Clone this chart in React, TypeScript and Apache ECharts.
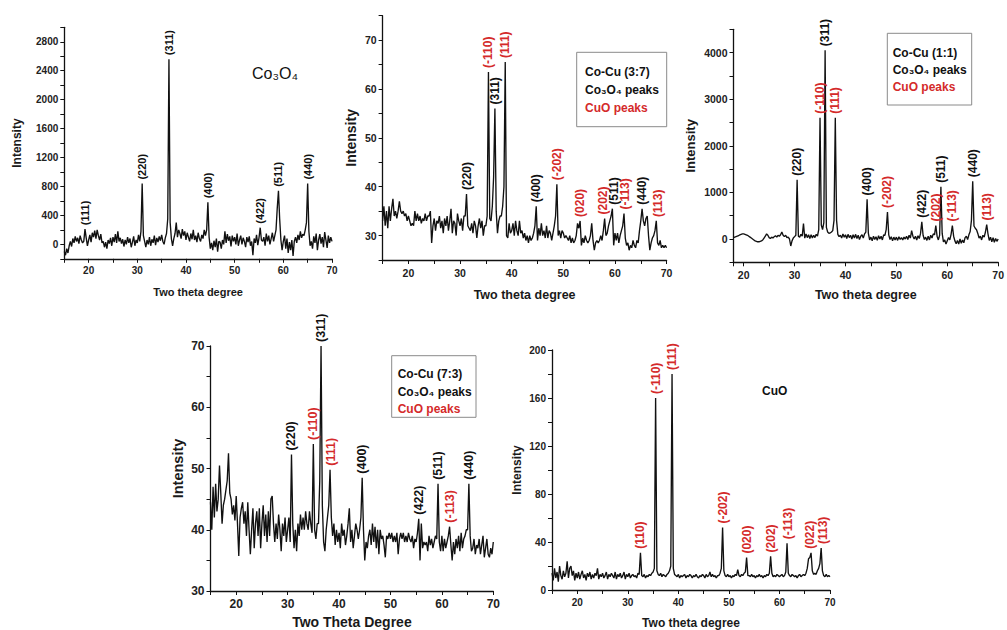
import React, { useEffect, useRef } from 'react';
import * as echarts from 'echarts';

// ---------------- data (x starts at given degree, step 0.25 deg) ----------------
const STEP = 0.25;

// Co3O4 (start 15)
const co3o4Y = [
  -100, -150, -60, -120, -20, 40, -30, 80, 20, 110, 40, 90, 10, 120, 60, 20,
  40, 210, 90, -20, 60, 130, 30, 160, 100, 190, 80, 200, 120, 60, 140, 20,
  40, -40, 30, -60, 60, 10, 90, -20, 100, 30, 140, 20, 180, 40, 90, 10,
  70, -30, 60, 0, 100, 20, 80, -40, 30, 110, -20, 60, 20, 130, 40, 180,
  840, 120, 40, -40, 60, 0, 100, -20, 70, 20, 120, -10, 90, 30, 110, 50,
  130, 40, 0, 90, 150, 350, 2560, 300, 80, -20, 80, 150, 300, 100, 200, 150,
  80, 210, 120, 180, 60, 160, 100, 40, 150, 70, 200, 60, 120, 30, 160, 80,
  40, 130, 80, 200, 120, 200, 580, 100, -60, 20, -80, 50, -40, 80, -100, 40,
  30, -60, 60, 0, 180, 20, 140, 50, 110, -30, 120, 40, 100, 0, 150, -20,
  60, 120, 0, 90, 40, -40, 100, 30, 110, -20, 40, -150, 80, 20, 130, -10,
  90, 230, 60, 40, 100, -20, 150, 40, 120, 0, 80, 160, 40, 120, 200, 500,
  740, 350, 60, -80, 40, 120, -60, 80, -120, 30, -80, 60, -160, 40, 100, 20,
  130, 60, 180, 90, 140, 120, 200, 300, 840, 180, -20, 40, -60, 110, 20, 150,
  -80, 60, 140, 10, 100, -40, 170, 60, -50, 120, 20, 100, 40,
];
const co3o4Labels: [number, number, string, string][] = [
  [19.25, 210, '(111)', 'k'], [31, 840, '(220)', 'k'], [36.5, 2560, '(311)', 'k'],
  [44.5, 580, '(400)', 'k'], [55.25, 230, '(422)', 'k'], [59, 740, '(511)', 'k'],
  [65, 840, '(440)', 'k'],
];

// Co-Cu (3:7) (start 15)
const cu37Y = [
  33, 36, 32, 35, 31.5, 36, 33, 35.5, 37.5, 34, 35, 33.5, 35, 37, 35, 34.5,
  35, 34, 34.5, 33, 34, 33, 32, 32.5, 32, 35, 33, 34.5, 33, 34, 32.5, 33.5,
  33, 34.5, 33, 34, 34, 35, 28.5, 32, 33.5, 31, 33, 32.5, 34, 31.5, 33, 30.5,
  33.5, 32, 34, 31, 33, 35.5, 30.5, 33, 32.5, 30, 34.5, 33, 32, 33.5, 31, 34,
  34, 38.5, 32, 31.5, 31, 32.5, 30.5, 33, 32, 29.5, 32, 33.5, 31.5, 33, 30, 32,
  32, 34, 63.5, 33.5, 33, 36, 42, 56, 35, 30.5, 33, 34, 34, 36, 40, 65.5,
  30, 29.5, 32.5, 30.5, 31, 32.5, 30, 33, 31, 30, 33, 30.5, 31, 29.5, 30.5, 29,
  30, 28.5, 30, 29, 29.5, 30.5, 32, 36, 29, 31.5, 30, 32.5, 30, 31, 29.5, 32,
  29.5, 31, 30.5, 29, 30.5, 32, 34, 40.5, 30, 31, 29.5, 31, 30.5, 29.5, 30, 29.5,
  29, 30, 28.5, 29.5, 28.5, 29, 30, 32.5, 31.5, 33, 28, 29.5, 28.5, 30, 29, 28.5,
  29, 30, 32.5, 29, 27, 28.5, 29, 28.5, 29, 30, 29, 31, 33.5, 30, 30.5, 32,
  33, 34, 35.5, 28, 30.5, 29, 30.5, 28.5, 30, 31, 32, 34.5, 29.5, 28, 28.5, 27,
  28, 27.5, 29, 28, 27.5, 29, 28.5, 31, 33, 35.5, 33, 32, 33.5, 34, 30, 27,
  28.5, 29.5, 30, 31, 33, 28.5, 28, 29, 27.5, 28, 27.5, 28, 27.5,
];
const cu37Labels: [number, number, string, string][] = [
  [31.25, 38.5, '(220)', 'k'], [35.5, 63.5, '(-110)', 'r'], [36.75, 56, '(311)', 'k'],
  [38.75, 65.5, '(111)', 'r'], [44.75, 36, '(400)', 'k'], [48.75, 40.5, '(-202)', 'r'],
  [53.25, 33, '(020)', 'r'], [57.75, 33.5, '(202)', 'r'], [59.75, 35.5, '(511)', 'k'],
  [61.9, 34.5, '(-113)', 'r'], [65.25, 35.5, '(440)', 'k'], [68.25, 33, '(113)', 'r'],
];

// Co-Cu (1:1) (start 18)
const cu11Y = [
  30, 40, 50, 60, 70, 90, 100, 110, 110, 100, 90, 80, 60, 40, 20, 0,
  -20, -40, -50, -60, -60, -50, -40, -20, 20, 60, 110, 80, 30, 10, 40, 20,
  50, 70, 40, 80, 60, 90, 150, 80, 50, 80, 30, 40, 0, -150, -40, 20,
  50, 80, 1270, 60, 40, 100, 60, 330, 20, 110, 30, 90, 10, 90, 20, 80,
  30, 100, 60, 200, 2600, 300, 200, 350, 4050, 250, 150, 120, 130, 150, 180, 400,
  2600, 400, 100, 50, 80, 20, 110, 40, 90, 10, 100, 30, 80, 0, 90, 20,
  100, 10, 80, -10, 60, 90, 20, 110, 150, 850, 120, -20, 40, -40, 60, -10,
  50, -30, 70, 0, 60, -20, 90, 80, 200, 580, 90, -10, 50, -40, 40, -20,
  40, -30, 50, -10, 30, -20, 40, 0, 60, -10, 80, 20, 180, 60, 0, 60,
  -20, 70, 10, 120, 370, 80, -10, 40, -30, 60, -20, 80, 20, 110, 90, 290,
  60, -20, 80, 1120, 120, -60, -20, -110, -40, 30, -20, 100, 290, 60, -40, -100,
  -30, -110, 0, -90, -20, -80, 30, 60, -10, 90, 160, 400, 1240, 280, 230, 200,
  120, 20, 60, -20, 80, 40, 150, 310, 110, -30, 40, -60, 30, -70, 10, -50, 0,
];
const cu11Labels: [number, number, string, string][] = [
  [30.5, 1270, '(220)', 'k'], [35, 2600, '(-110)', 'r'], [36, 4050, '(311)', 'k'],
  [38, 2600, '(111)', 'r'], [44.25, 850, '(400)', 'k'], [48.25, 580, '(-202)', 'r'],
  [55, 370, '(422)', 'k'], [57.75, 290, '(202)', 'r'], [58.75, 1120, '(511)', 'k'],
  [61, 290, '(-113)', 'r'], [65, 1240, '(440)', 'k'], [67.75, 310, '(113)', 'r'],
];

// Co-Cu (7:3) (start 15)
const cu73Y = [
  44.5, 40, 47, 42, 47.5, 43, 45, 50.5, 46, 41, 44, 45, 46.5, 48, 52.5, 46,
  45, 42.5, 44, 41.5, 45.5, 41, 35.7, 42, 43.5, 44.5, 41, 43, 39, 44.5, 40, 36,
  40, 43.5, 37, 41, 43, 39, 43.5, 37, 41, 44, 39, 42.5, 38, 43, 39, 45,
  45.5, 41, 38, 41, 38.5, 42.5, 40, 36.5, 41, 39, 42, 38, 40, 42, 38, 52.3,
  41, 37, 40, 36.5, 41, 39, 42.5, 40, 42, 40, 43, 41, 40, 43, 41, 39.5,
  54, 40, 38.5, 41, 41, 48, 70, 44, 38, 36.5, 40, 42, 44, 49.8, 42, 39,
  41, 37.5, 40, 38, 39.5, 37, 41, 39, 40, 37.5, 39, 41, 43.5, 38, 40, 37,
  39, 41, 40, 38.5, 40, 42, 48.5, 40, 35, 38, 37, 39, 40, 37.5, 41, 38,
  40.5, 37, 40, 36, 40, 38.5, 39, 37.5, 35.5, 39, 38.5, 39.5, 38.5, 39.5, 38, 39,
  38, 39.5, 36, 38.5, 39.5, 38.5, 39.5, 38, 39, 38, 39.5, 38.5, 38, 39, 37, 38.5,
  38, 39.5, 41.8, 35, 41, 37, 38, 37.5, 38, 36.5, 39, 37.5, 38.5, 37, 38, 39,
  38.5, 47.5, 38, 36.5, 39, 36.5, 38.5, 37, 38, 39, 40.5, 37.5, 35, 38, 36, 38.5,
  37, 39, 36.5, 39.5, 37, 38.5, 39, 40, 40, 47.5, 39, 36.5, 37, 38.5, 36, 37.5,
  37, 38.5, 36, 37.5, 39, 35.5, 37, 38.5, 36, 35.5, 37, 36, 38,
];
const cu73Labels: [number, number, string, string][] = [
  [30.75, 52.3, '(220)', 'k'], [35, 54, '(-110)', 'r'], [36.5, 70, '(311)', 'k'],
  [38.5, 49.8, '(111)', 'r'], [44.5, 48.5, '(400)', 'k'], [55.5, 41.8, '(422)', 'k'],
  [59.25, 47.5, '(511)', 'k'], [61.6, 40.5, '(-113)', 'r'], [65.25, 47.5, '(440)', 'k'],
];

// CuO (start 15)
const cuoY = [
  14, 8, 18, 10, 15, 7, 20, 12, 9, 16, 11, 14, 24, 10, 18, 20,
  12, 16, 8, 14, 10, 15, 9, 13, 16, 10, 13, 8, 14, 11, 15, 9,
  13, 10, 14, 12, 18, 9, 13, 11, 14, 10, 12, 15, 9, 13, 11, 14,
  12, 10, 15, 9, 13, 11, 14, 10, 12, 15, 9, 13, 11, 14, 10, 12,
  13, 11, 12, 10, 14, 13, 31, 12, 11, 13, 10, 12, 11, 13, 12, 14,
  15, 18, 160, 16, 13, 12, 14, 11, 13, 12, 11, 13, 14, 16, 20, 180,
  18, 13, 12, 11, 13, 10, 12, 11, 12, 13, 10, 12, 11, 13, 12, 10,
  12, 11, 13, 11, 10, 12, 11, 13, 12, 10, 13, 11, 12, 15, 11, 13,
  11, 12, 10, 12, 12, 14, 18, 52, 16, 12, 11, 13, 11, 12, 10, 12,
  11, 13, 12, 17, 12, 11, 13, 12, 14, 15, 27, 12, 12, 11, 13, 11,
  12, 10, 12, 11, 13, 11, 12, 10, 12, 11, 13, 12, 14, 28, 14, 11,
  12, 11, 13, 12, 11, 12, 13, 11, 12, 15, 39, 14, 12, 11, 13, 12,
  11, 12, 10, 12, 13, 11, 12, 13, 12, 14, 18, 26, 27, 31, 16, 13,
  14, 13, 16, 18, 22, 35, 16, 12, 11, 13, 11, 12, 11,
];
const cuoLabels: [number, number, string, string][] = [
  [32.4, 31, '(110)', 'r'], [35.5, 160, '(-110)', 'r'], [38.75, 180, '(111)', 'r'],
  [48.75, 52, '(-202)', 'r'], [53.5, 27, '(020)', 'r'], [58.25, 28, '(202)', 'r'],
  [61.6, 39, '(-113)', 'r'], [66.1, 31, '(022)', 'r'], [68.6, 35, '(113)', 'r'],
];

// ---------------- styling ----------------
const BLACK = '#111111';
const RED = '#d42a2a';
const FONT = '"Liberation Sans", Arial, Helvetica, sans-serif';

const toPairs = (start: number, ys: number[]) =>
  ys.map((y, i) => [Math.round((start + i * STEP) * 100) / 100, y]);

type Panel = {
  grid: { left: number; top: number; width: number; height: number };
  xMin: number; xMax: number; xInterval?: number; xSplit?: number;
  yMin: number; yMax: number; yInterval: number; yLabelStep: number; yLabelMin: number; yLabelMax: number;
  tick: number; xName: string; xNameSize: number; xNameGap: number; yNameSize: number; yNameGap: number;
  lblSize: number; start: number; ys: number[]; labels: [number, number, string, string][];
};

const panels: Panel[] = [
  {
    grid: { left: 64.3, top: 27.3, width: 267.7, height: 231.5 },
    xMin: 15, xMax: 70, xInterval: 5, yMin: -200, yMax: 3000, yInterval: 200, yLabelStep: 400, yLabelMin: 0, yLabelMax: 2800,
    tick: 10, xName: 'Two theta degree', xNameSize: 11, xNameGap: 28, yNameSize: 12, yNameGap: 41,
    lblSize: 11, start: 15, ys: co3o4Y, labels: co3o4Labels,
  },
  {
    grid: { left: 382.6, top: 15.7, width: 284, height: 244.3 },
    xMin: 15, xMax: 70, xInterval: 5, yMin: 25, yMax: 75, yInterval: 5, yLabelStep: 10, yLabelMin: 30, yLabelMax: 70,
    tick: 10.5, xName: 'Two theta degree', xNameSize: 12.5, xNameGap: 28, yNameSize: 14, yNameGap: 25,
    lblSize: 12, start: 15, ys: cu37Y, labels: cu37Labels,
  },
  {
    grid: { left: 733.5, top: 29.3, width: 269.8, height: 233 },
    xMin: 18, xMax: 70, xSplit: 11, yMin: -500, yMax: 4500, yInterval: 500, yLabelStep: 1000, yLabelMin: 0, yLabelMax: 4000,
    tick: 10.5, xName: 'Two theta degree', xNameSize: 12.5, xNameGap: 26, yNameSize: 13, yNameGap: 37,
    lblSize: 12, start: 18, ys: cu11Y, labels: cu11Labels,
  },
  {
    grid: { left: 210.5, top: 346, width: 282.8, height: 245.7 },
    xMin: 15, xMax: 70, xInterval: 5, yMin: 30, yMax: 70, yInterval: 5, yLabelStep: 10, yLabelMin: 30, yLabelMax: 70,
    tick: 12, xName: 'Two Theta Degree', xNameSize: 14, xNameGap: 24, yNameSize: 14.5, yNameGap: 25,
    lblSize: 12.5, start: 15, ys: cu73Y, labels: cu73Labels,
  },
  {
    grid: { left: 552, top: 350, width: 278, height: 240 },
    xMin: 15, xMax: 70, xInterval: 5, yMin: 0, yMax: 200, yInterval: 20, yLabelStep: 40, yLabelMin: 0, yLabelMax: 200,
    tick: 10, xName: 'Two theta degree', xNameSize: 12, xNameGap: 27, yNameSize: 12, yNameGap: 29,
    lblSize: 12, start: 15, ys: cuoY, labels: cuoLabels,
  },
];

function legendBox(x: number, y: number, w: number, h: number, tx: number, lines: number[], title: string) {
  const texts = [title, 'Co\u2083O\u2084 peaks', 'CuO peaks'];
  return {
    type: 'group',
    children: [
      { type: 'rect', shape: { x, y, width: w, height: h }, style: { fill: '#fff', stroke: '#8a8a8a', lineWidth: 1 }, z: 10 },
      ...texts.map((t, i) => ({
        type: 'text', x: tx, y: lines[i], z: 11,
        style: { text: t, fill: i === 2 ? RED : BLACK, font: `bold 12px ${FONT}`, align: 'left', verticalAlign: 'middle' },
      })),
    ],
  };
}

export default function App() {
  const ref = useRef<HTMLDivElement>(null);
  useEffect(() => {
    if (!ref.current) return;
    const chart = echarts.init(ref.current, null, { renderer: 'svg' });

    const grid = panels.map((p) => ({ ...p.grid, containLabel: false }));
    const xAxis = panels.map((p, i) => ({
      type: 'value', gridIndex: i, min: p.xMin, max: p.xMax,
      ...(p.xInterval ? { interval: p.xInterval } : { splitNumber: p.xSplit }),
      name: p.xName, nameLocation: 'middle', nameGap: p.xNameGap,
      nameTextStyle: { fontSize: p.xNameSize, fontWeight: 'bold', color: '#1a1a1a', fontFamily: FONT },
      axisLine: { show: true, onZero: false, lineStyle: { color: BLACK, width: 1.3 } },
      axisTick: { show: true, inside: false, length: 4, lineStyle: { color: BLACK, width: 1 } },
      splitLine: { show: false },
      axisLabel: {
        margin: 7, fontSize: p.tick, fontWeight: 'bold', color: '#222', fontFamily: FONT,
        formatter: (v: number) => (Math.abs(v % 10) < 1e-6 ? String(v) : ''),
      },
    }));
    const yAxis = panels.map((p, i) => ({
      type: 'value', gridIndex: i, min: p.yMin, max: p.yMax, interval: p.yInterval,
      name: 'Intensity', nameLocation: 'middle', nameGap: p.yNameGap,
      nameTextStyle: { fontSize: p.yNameSize, fontWeight: 'bold', color: '#1a1a1a', fontFamily: FONT },
      axisLine: { show: true, onZero: false, lineStyle: { color: BLACK, width: 1.3 } },
      axisTick: { show: true, inside: false, length: 4, lineStyle: { color: BLACK, width: 1 } },
      splitLine: { show: false },
      axisLabel: {
        margin: 6, fontSize: p.tick, fontWeight: 'bold', color: '#222', fontFamily: FONT,
        formatter: (v: number) =>
          v >= p.yLabelMin && v <= p.yLabelMax && Math.abs((v - p.yLabelMin) % p.yLabelStep) < 1e-6 ? String(v) : '',
      },
    }));

    const series: any[] = [];
    panels.forEach((p, i) => {
      series.push({
        type: 'line', xAxisIndex: i, yAxisIndex: i, data: toPairs(p.start, p.ys),
        showSymbol: false, symbol: 'none', silent: true, z: 3,
        lineStyle: { color: BLACK, width: 1.35 },
      });
      series.push({
        type: 'custom', xAxisIndex: i, yAxisIndex: i, clip: false, silent: true, z: 5,
        data: p.labels.map((l) => [l[0], l[1]]),
        renderItem: (params: any, api: any) => {
          const l = p.labels[params.dataIndex];
          const pt = api.coord([api.value(0), api.value(1)]);
          return {
            type: 'text', x: pt[0], y: pt[1] - 4, rotation: Math.PI / 2,
            style: {
              text: l[2], fill: l[3] === 'r' ? RED : BLACK,
              font: `bold ${p.lblSize}px ${FONT}`, align: 'left', verticalAlign: 'middle',
            },
          };
        },
      });
    });

    const graphic = [
      { type: 'text', x: 252, y: 73, style: { text: 'Co\u2083O\u2084', fill: BLACK, font: `16px ${FONT}`, align: 'left', verticalAlign: 'middle' }, z: 11 },
      { type: 'text', x: 762, y: 391, style: { text: 'CuO', fill: BLACK, font: `bold 12px ${FONT}`, align: 'left', verticalAlign: 'middle' }, z: 11 },
      legendBox(576.7, 52.3, 90, 74.4, 585, [71.7, 90, 107.5], 'Co-Cu (3:7)'),
      legendBox(887.3, 33.3, 84.4, 71.7, 892.7, [53, 69.5, 86.5], 'Co-Cu (1:1)'),
      legendBox(391.7, 355.7, 84.3, 61.6, 397.7, [374, 391.7, 409], 'Co-Cu (7:3)'),
    ];

    chart.setOption({
      animation: false,
      backgroundColor: '#ffffff',
      grid, xAxis, yAxis, series, graphic,
    });
    return () => chart.dispose();
  }, []);
  return (
    <div
      ref={ref}
      style={{ position: 'fixed', left: 0, top: 0, width: 1007, height: 630, background: '#fff' }}
    />
  );
}
